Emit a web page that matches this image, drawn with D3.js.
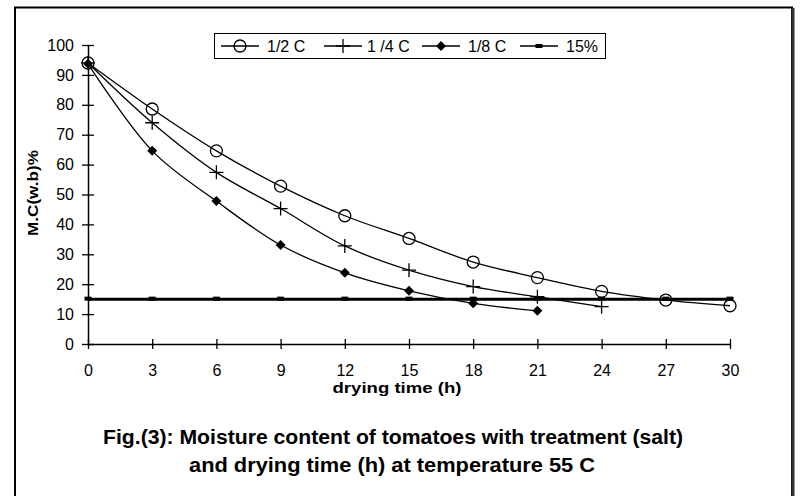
<!DOCTYPE html>
<html>
<head>
<meta charset="utf-8">
<script src="https://cdn.jsdelivr.net/npm/d3@7"></script>
<style>
  body { margin: 0; background: #fff; }
  text { font-family: "Liberation Sans", Arial, sans-serif; }
</style>
</head>
<body>
<svg id="vis" width="802" height="496"></svg>
<script>
const hours = [0, 3, 6, 9, 12, 15, 18, 21, 24, 27, 30];
const half_c = [94, 78.6, 64.6, 52.8, 42.9, 35.3, 27.4, 22.2, 17.6, 14.7, 12.8];
const quarter_c = [94, 74, 57.4, 45.3, 32.8, 24.7, 19.2, 15.8, 12.5];
const eighth_c = [93.7, 64.6, 47.8, 33.1, 23.8, 17.8, 13.6, 11.1];
const limit = [15, 15, 15, 15, 15, 15, 15, 15, 15, 15, 15];
const y_ticks = [0, 10, 20, 30, 40, 50, 60, 70, 80, 90, 100];
const legend_labels = ["1/2 C", "1 /4 C", "1/8 C", "15%"];

const svg = d3.select("#vis");

// frame around the figure
svg.append("rect")
    .attr("x", 15).attr("y", 7.5)
    .attr("width", 777).attr("height", 520)
    .attr("fill", "none").attr("stroke", "#000").attr("stroke-width", 2);
svg.append("line")
    .attr("x1", 793).attr("x2", 793).attr("y1", 8).attr("y2", 496)
    .attr("stroke", "#333").attr("stroke-width", 3);

const x = d3.scaleLinear().domain([0, 30]).range([88, 730]);
const y = d3.scaleLinear().domain([0, 100]).range([344, 45]);

const xAxis = svg.append("g")
    .attr("transform", `translate(0,${y(0)})`)
    .call(d3.axisBottom(x).tickValues(hours).tickSize(5).tickPadding(16).tickSizeOuter(0));
xAxis.selectAll(".tick line").attr("y1", -5).attr("y2", 5);

const yAxis = svg.append("g")
    .attr("transform", `translate(${x(0)},0)`)
    .call(d3.axisLeft(y).tickValues(y_ticks).tickSize(6).tickPadding(8).tickSizeOuter(0));
yAxis.selectAll(".tick line").attr("x1", -6).attr("x2", 6);

[xAxis, yAxis].forEach(g => {
    g.select(".domain").attr("stroke", "#000").attr("stroke-width", 1.5);
    g.selectAll(".tick line").attr("stroke", "#000").attr("stroke-width", 1.3);
    g.selectAll("text").attr("font-family", "Liberation Sans, Arial, sans-serif")
        .attr("font-size", 16).attr("fill", "#000");
});

svg.append("text")
    .attr("x", 397).attr("y", 393)
    .attr("text-anchor", "middle")
    .attr("font-size", 15).attr("font-weight", "bold")
    .attr("textLength", 129).attr("lengthAdjust", "spacingAndGlyphs")
    .text("drying time (h)");

svg.append("text")
    .attr("transform", "translate(38,193) rotate(-90)")
    .attr("text-anchor", "middle")
    .attr("font-size", 15).attr("font-weight", "bold")
    .attr("textLength", 86).attr("lengthAdjust", "spacingAndGlyphs")
    .text("M.C(w.b)%");

svg.append("text")
    .attr("x", 393).attr("y", 444)
    .attr("text-anchor", "middle")
    .attr("font-size", 20).attr("font-weight", "bold")
    .attr("textLength", 580).attr("lengthAdjust", "spacingAndGlyphs")
    .text("Fig.(3): Moisture content of tomatoes with treatment (salt)");
svg.append("text")
    .attr("x", 392).attr("y", 472)
    .attr("text-anchor", "middle")
    .attr("font-size", 20).attr("font-weight", "bold")
    .attr("textLength", 406).attr("lengthAdjust", "spacingAndGlyphs")
    .text("and drying time (h) at temperature 55 C");

const line = d3.line()
    .x((d, i) => x(hours[i]))
    .y(d => y(d))
    .curve(d3.curveCatmullRom.alpha(0.5));

// 15% reference line
svg.append("path")
    .attr("d", d3.line().x((d, i) => x(hours[i])).y(d => y(d))(limit))
    .attr("fill", "none").attr("stroke", "#000").attr("stroke-width", 3);
svg.selectAll(".limitmark").data(limit).join("rect")
    .attr("x", (d, i) => x(hours[i]) - 3.5)
    .attr("y", d => y(d) - 2.5)
    .attr("width", 7).attr("height", 4)
    .attr("fill", "#000");

const series = [half_c, quarter_c, eighth_c];
series.forEach(s => {
    svg.append("path")
        .attr("d", line(s))
        .attr("fill", "none").attr("stroke", "#000").attr("stroke-width", 1.3);
});

const circle_mark = (g, cx, cy) => g.append("circle")
    .attr("cx", cx).attr("cy", cy).attr("r", 6)
    .attr("fill", "none").attr("stroke", "#000").attr("stroke-width", 1.3);
const plus_mark = (g, cx, cy) => g.append("path")
    .attr("d", `M${cx - 7},${cy}H${cx + 7}M${cx},${cy - 7}V${cy + 7}`)
    .attr("stroke", "#000").attr("stroke-width", 1.3);
const diamond_mark = (g, cx, cy) => g.append("path")
    .attr("d", `M${cx},${cy - 5}L${cx + 5},${cy}L${cx},${cy + 5}L${cx - 5},${cy}Z`)
    .attr("fill", "#000");
const dash_mark = (g, cx, cy) => g.append("rect")
    .attr("x", cx - 3.5).attr("y", cy - 2).attr("width", 7).attr("height", 4)
    .attr("fill", "#000");

const marks = svg.append("g");
half_c.forEach((v, i) => circle_mark(marks, x(hours[i]), y(v)));
quarter_c.forEach((v, i) => plus_mark(marks, x(hours[i]), y(v)));
eighth_c.forEach((v, i) => diamond_mark(marks, x(hours[i]), y(v)));

// legend
const leg = svg.append("g");
leg.append("rect")
    .attr("x", 214.5).attr("y", 33.5).attr("width", 391).attr("height", 25)
    .attr("fill", "#fff").attr("stroke", "#000").attr("stroke-width", 1);
const leg_x = [221, 324, 422, 520];
const leg_marks = [circle_mark, plus_mark, diamond_mark, dash_mark];
legend_labels.forEach((lab, i) => {
    const lx = leg_x[i], ly = 46;
    leg.append("line")
        .attr("x1", lx).attr("x2", lx + 38).attr("y1", ly).attr("y2", ly)
        .attr("stroke", "#000").attr("stroke-width", 1.3);
    leg_marks[i](leg, lx + 19, ly);
    leg.append("text")
        .attr("x", lx + (i === 1 ? 43 : 46)).attr("y", ly + 6)
        .attr("font-size", 16)
        .text(lab);
});
</script>
</body>
</html>
